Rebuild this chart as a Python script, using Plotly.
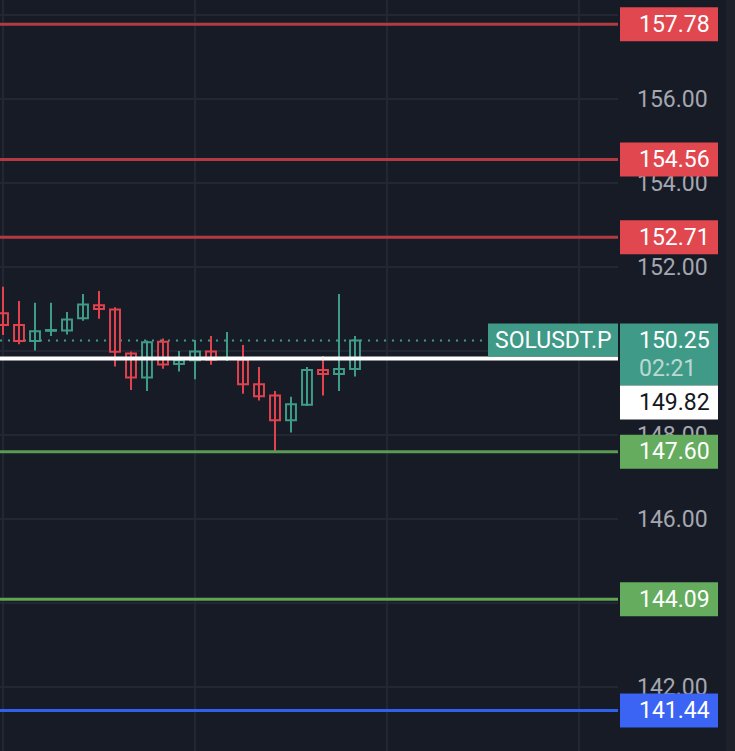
import plotly.graph_objects as go

# ---------------- data ----------------
candle_idx = list(range(23))
opens  = [150.90, 150.62, 150.24, 150.48, 150.49, 150.78, 151.09, 150.99, 149.94, 149.37, 150.22, 149.69,
          149.78, 149.99, 149.81, 149.80, 149.21, 148.94, 148.35, 148.72, 149.55, 149.45, 149.57]
highs  = [151.53, 151.19, 151.15, 151.15, 150.93, 151.36, 151.43, 151.04, 149.99, 150.25, 150.30, 150.00,
          150.26, 150.36, 150.45, 150.14, 149.62, 149.05, 148.91, 149.62, 149.88, 151.36, 150.36]
lows   = [150.38, 150.16, 150.01, 150.36, 150.39, 150.72, 150.77, 149.63, 149.07, 149.05, 149.58, 149.51,
          149.33, 149.67, 149.76, 148.98, 148.82, 147.58, 148.06, 148.69, 148.94, 149.05, 149.39]
closes = [150.62, 150.24, 150.47, 150.50, 150.75, 151.11, 151.00, 149.98, 149.37, 150.21, 149.68, 149.78,
          149.99, 149.79, 149.83, 149.21, 148.92, 148.35, 148.73, 149.55, 149.45, 149.57, 150.25]

level_prices = [157.78, 154.56, 152.71, 147.60, 144.09, 141.44]
level_line_colors = ["#b23a41", "#b23a41", "#b23a41", "#5a9a52", "#5fa552", "#3060ee"]
level_label_colors = ["#e1474f", "#e1474f", "#e1474f", "#65ac5e", "#65ac5e", "#3b63f4"]

last_price = 150.25
countdown = "02:21"
symbol = "SOLUSDT.P"
marked_price = 149.82

tick_values = [158, 156, 154, 152, 150, 148, 146, 144, 142]
# labels for 158, 150 and 144 sit fully under the price tags, so they are left blank
tick_labels = ["", "156.00", "154.00", "152.00", "", "148.00", "146.00", "", "142.00"]

# ---------------- style ----------------
BG = "#171b26"
GRID = "#232733"
UP = "#3f9a87"
DOWN = "#e0434d"
FONT = "Roboto"
W, H = 735, 751
PLOT_RIGHT = 618  # px
XR = PLOT_RIGHT / W

fig = go.Figure()

# wicks
for color, cond in ((UP, lambda o, c: c >= o), (DOWN, lambda o, c: c < o)):
    xs, ys = [], []
    for i, o, h, l, c in zip(candle_idx, opens, highs, lows, closes):
        if cond(o, c):
            xs += [i, i, None]
            ys += [l, h, None]
    fig.add_trace(go.Scatter(x=xs, y=ys, mode="lines", line=dict(color=color, width=2),
                             hoverinfo="skip", showlegend=False))

# hollow bodies
for color, cond in ((UP, lambda o, c: c >= o), (DOWN, lambda o, c: c < o)):
    bx, bb, bh = [], [], []
    for i, o, c in zip(candle_idx, opens, closes):
        if cond(o, c):
            bx.append(i)
            bb.append(min(o, c))
            bh.append(max(abs(c - o), 0.005))
    fig.add_trace(go.Bar(x=bx, y=bh, base=bb, width=0.62,
                         marker=dict(color=BG, line=dict(color=color, width=2)),
                         hoverinfo="skip", showlegend=False))

shapes = []
# right strip
shapes.append(dict(type="rect", xref="paper", yref="paper", x0=726 / W, x1=1, y0=0, y1=1,
                   fillcolor="#1e2129", line=dict(width=0), layer="below"))
# dotted last price line
shapes.append(dict(type="line", xref="paper", yref="y", x0=0, x1=XR, y0=last_price, y1=last_price,
                   line=dict(color=UP, width=2, dash="2px,6px"), layer="below"))
# level lines
for p, col in zip(level_prices, level_line_colors):
    shapes.append(dict(type="line", xref="paper", yref="y", x0=0, x1=XR, y0=p, y1=p,
                       line=dict(color=col, width=3), layer="above"))
# white marked line
shapes.append(dict(type="line", xref="paper", yref="y", x0=0, x1=XR, y0=marked_price, y1=marked_price,
                   line=dict(color="#ffffff", width=4), layer="above"))

LX0, LX1 = 620 / W, 718 / W
annotations = []
# level label boxes
for p, col in zip(level_prices, level_label_colors):
    shapes.append(dict(type="rect", xref="paper", yref="y", ysizemode="pixel", yanchor=p,
                       x0=LX0, x1=LX1, y0=-17, y1=17, fillcolor=col, line=dict(width=0), layer="above"))
    annotations.append(dict(xref="paper", yref="y", x=637 / W, y=p, xanchor="left", yanchor="middle",
                            text="%.2f" % p, showarrow=False, font=dict(family=FONT, size=23, color="#ffffff")))
# current price box
shapes.append(dict(type="rect", xref="paper", yref="y", ysizemode="pixel", yanchor=last_price,
                   x0=LX0, x1=LX1, y0=-45, y1=17, fillcolor=UP, line=dict(width=0), layer="above"))
annotations.append(dict(xref="paper", yref="y", x=637 / W, y=last_price, xanchor="left", yanchor="middle",
                        text="%.2f" % last_price, showarrow=False,
                        font=dict(family=FONT, size=23, color="#ffffff")))
annotations.append(dict(xref="paper", yref="y", x=637 / W, y=last_price, xanchor="left", yanchor="middle",
                        yshift=-28, text=countdown, showarrow=False,
                        font=dict(family=FONT, size=23, color="rgba(255,255,255,0.65)")))
# symbol box
shapes.append(dict(type="rect", xref="paper", yref="y", ysizemode="pixel", yanchor=last_price,
                   x0=488 / W, x1=XR, y0=-16, y1=17, fillcolor=UP, line=dict(width=0), layer="above"))
annotations.append(dict(xref="paper", yref="y", x=553 / W, y=last_price, xanchor="center", yanchor="middle",
                        text=symbol, showarrow=False, font=dict(family=FONT, size=23, color="#ffffff")))
# marked price box (stacked below)
shapes.append(dict(type="rect", xref="paper", yref="y", ysizemode="pixel", yanchor=marked_price,
                   x0=LX0, x1=LX1, y0=-61, y1=-27, fillcolor="#ffffff", line=dict(width=0), layer="above"))
annotations.append(dict(xref="paper", yref="y", x=637 / W, y=marked_price, xanchor="left", yanchor="middle",
                        yshift=-44, text="%.2f" % marked_price, showarrow=False,
                        font=dict(family=FONT, size=23, color="#131722")))

# y scale: 42 px per unit, 156 at y=99px
p_top = 156 + 99 / 42
p_bot = 156 - (H - 99) / 42
x_left = -3 / 16
x_right = (PLOT_RIGHT - 3) / 16

fig.update_layout(
    width=W, height=H, margin=dict(l=0, r=0, t=0, b=0),
    paper_bgcolor=BG, plot_bgcolor=BG, barmode="overlay", showlegend=False,
    shapes=shapes, annotations=annotations,
    xaxis=dict(domain=[0, XR], range=[x_left, x_right], showgrid=True, gridcolor=GRID, gridwidth=2,
               tick0=0, dtick=12, showticklabels=False, zeroline=False, ticks="", showline=False,
               fixedrange=True),
    yaxis=dict(range=[p_bot, p_top], side="right", showgrid=True, gridcolor=GRID, gridwidth=2,
               tickmode="array", tickvals=tick_values, ticktext=tick_labels, ticks="",
               ticklabelstandoff=18,
               tickfont=dict(family=FONT, size=23, color="#a4a7b0"), zeroline=False, showline=False,
               fixedrange=True),
)

fig.write_html("out.html", config={"displayModeBar": False},
               post_script="document.body.style.margin='0';document.body.style.background='%s';" % BG)
